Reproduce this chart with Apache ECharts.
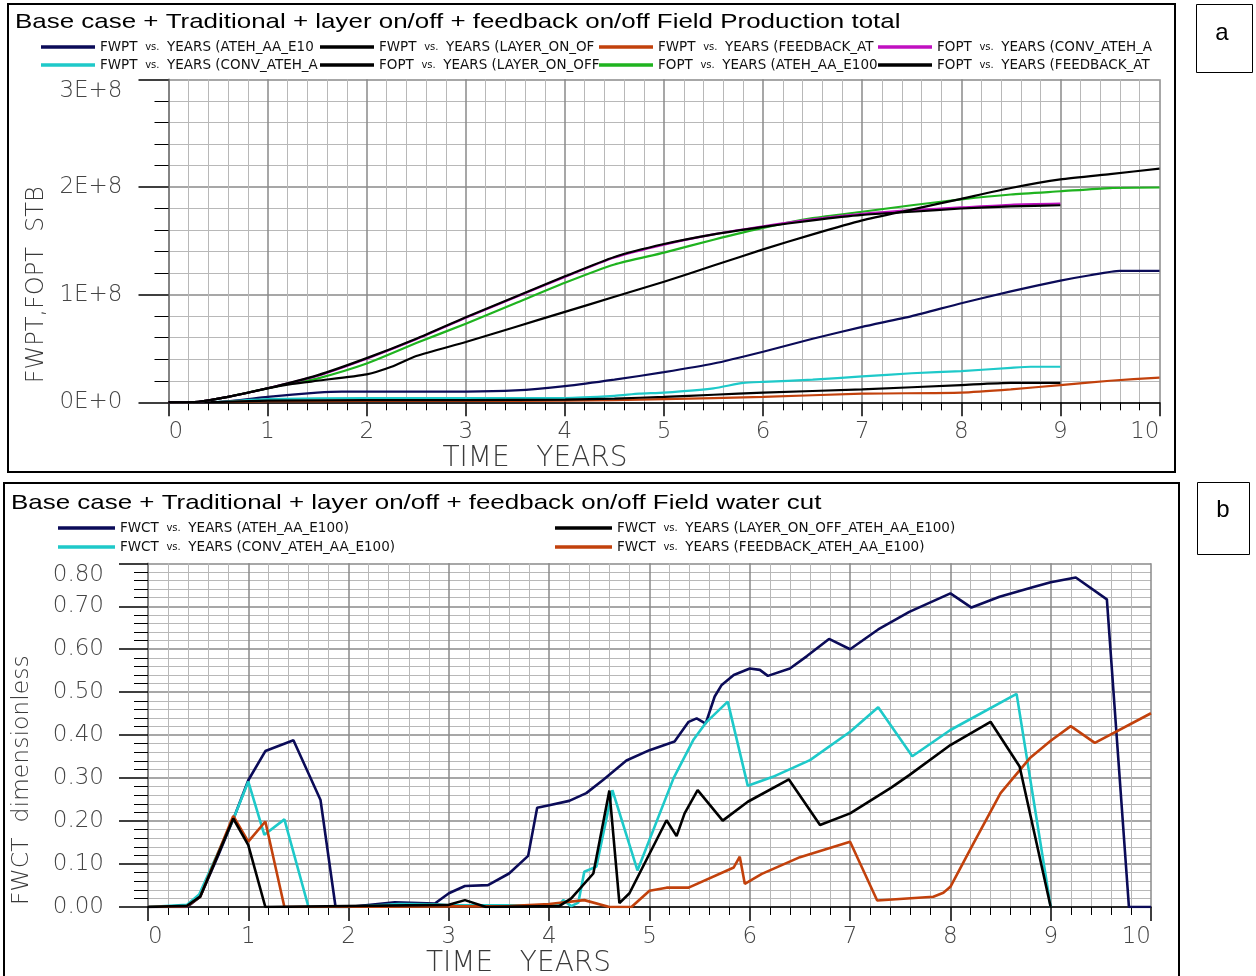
<!DOCTYPE html>
<html>
<head>
<meta charset="utf-8">
<script src="https://cdn.jsdelivr.net/npm/echarts@6/dist/echarts.min.js"></script>
<style>
html,body{margin:0;padding:0;background:#fff;}
#c{width:1256px;height:976px;}
</style>
</head>
<body>
<div id="c"></div>
<script>
// ---------- DATA (panel a: cumulative production, STB; x in years) ----------
const fwptAteh = [[0,0],[0.5,0.003e8],[1,0.05e8],[1.5,0.09e8],[1.75,0.10e8],[2,0.10e8],[3,0.10e8],[3.5,0.11e8],[4,0.15e8],[4.5,0.21e8],[5,0.28e8],[5.5,0.36e8],[6,0.47e8],[6.5,0.59e8],[7,0.70e8],[7.5,0.80e8],[8,0.92e8],[8.5,1.03e8],[9,1.13e8],[9.3,1.18e8],[9.6,1.22e8],[10,1.22e8]];
const fwptLayer = [[0,0],[0.5,0.003e8],[1,0.015e8],[2,0.02e8],[3,0.02e8],[4,0.025e8],[4.5,0.035e8],[5,0.05e8],[5.5,0.07e8],[6,0.09e8],[7,0.12e8],[8,0.16e8],[8.5,0.18e8],[9,0.18e8]];
const fwptFeedback = [[0,0],[0.5,0.003e8],[1,0.01e8],[2,0.012e8],[3,0.013e8],[4,0.015e8],[4.5,0.02e8],[5,0.03e8],[6,0.05e8],[7,0.08e8],[8,0.09e8],[8.5,0.12e8],[9,0.16e8],[9.5,0.20e8],[10,0.23e8]];
const foptConv = [[0,0],[0.3,0.005e8],[0.6,0.05e8],[1,0.13e8],[1.5,0.245e8],[2,0.405e8],[2.5,0.585e8],[3,0.785e8],[3.5,0.975e8],[4,1.165e8],[4.5,1.345e8],[5,1.465e8],[5.5,1.56e8],[6,1.635e8],[6.5,1.70e8],[7,1.75e8],[7.5,1.785e8],[8,1.81e8],[8.5,1.835e8],[9,1.845e8]];
const fwptConv = [[0,0],[0.5,0.005e8],[1,0.03e8],[2,0.04e8],[3,0.04e8],[4,0.04e8],[4.5,0.06e8],[4.75,0.08e8],[5,0.09e8],[5.5,0.13e8],[5.8,0.18e8],[6,0.19e8],[6.5,0.21e8],[7,0.24e8],[7.5,0.27e8],[8,0.29e8],[8.5,0.32e8],[8.7,0.33e8],[9,0.33e8]];
const foptLayer = [[0,0],[0.3,0.005e8],[0.6,0.05e8],[1,0.13e8],[1.5,0.25e8],[2,0.41e8],[2.5,0.59e8],[3,0.79e8],[3.5,0.98e8],[4,1.17e8],[4.5,1.35e8],[5,1.47e8],[5.5,1.56e8],[6,1.63e8],[6.5,1.69e8],[7,1.74e8],[7.5,1.77e8],[8,1.80e8],[8.5,1.82e8],[9,1.83e8]];
const foptAteh = [[0,0],[0.3,0.005e8],[0.6,0.05e8],[1,0.13e8],[1.25,0.18e8],[1.5,0.22e8],[2,0.36e8],[2.5,0.55e8],[3,0.73e8],[3.5,0.92e8],[4,1.11e8],[4.5,1.28e8],[5,1.39e8],[5.5,1.51e8],[6,1.62e8],[6.5,1.71e8],[7,1.77e8],[7.5,1.83e8],[8,1.885e8],[8.5,1.93e8],[9,1.96e8],[9.5,1.99e8],[10,1.995e8]];
const foptFeedback = [[0,0],[0.3,0.005e8],[0.6,0.05e8],[1,0.13e8],[1.25,0.17e8],[1.5,0.20e8],[2,0.26e8],[2.25,0.33e8],[2.5,0.43e8],[3,0.56e8],[3.5,0.70e8],[4,0.84e8],[4.5,0.98e8],[5,1.12e8],[5.5,1.27e8],[6,1.42e8],[6.5,1.56e8],[7,1.69e8],[7.5,1.79e8],[8,1.89e8],[8.5,1.99e8],[9,2.07e8],[9.5,2.12e8],[10,2.17e8]];

// ---------- DATA (panel b: field water cut) ----------
const fwctAteh = [[0,0],[0.39,0],[0.52,0.024],[0.7,0.12],[0.86,0.21],[1.0,0.295],[1.17,0.363],[1.45,0.388],[1.72,0.249],[1.87,0],[2.0,0],[2.46,0.011],[2.86,0.008],[3.0,0.032],[3.16,0.049],[3.39,0.051],[3.6,0.078],[3.79,0.119],[3.88,0.231],[4.0,0.237],[4.2,0.247],[4.37,0.265],[4.54,0.296],[4.77,0.341],[5.0,0.365],[5.25,0.385],[5.39,0.431],[5.47,0.439],[5.56,0.427],[5.65,0.49],[5.72,0.517],[5.84,0.54],[6.0,0.555],[6.1,0.552],[6.18,0.538],[6.4,0.555],[6.57,0.584],[6.79,0.624],[7.0,0.60],[7.28,0.646],[7.59,0.687],[8.0,0.73],[8.21,0.697],[8.49,0.722],[8.82,0.744],[9.0,0.756],[9.25,0.767],[9.56,0.716],[9.78,0],[10,0]];
const fwctConv = [[0,0],[0.39,0.005],[0.51,0.029],[0.86,0.21],[1.0,0.292],[1.16,0.168],[1.36,0.204],[1.6,0],[2.0,0],[2.5,0.007],[2.86,0.006],[3.0,0.004],[4.1,0.004],[4.14,0.016],[4.22,0.002],[4.29,0.01],[4.35,0.082],[4.47,0.094],[4.63,0.272],[4.88,0.085],[5.24,0.30],[5.44,0.39],[5.57,0.431],[5.78,0.478],[5.98,0.282],[6.23,0.303],[6.6,0.342],[7.0,0.408],[7.28,0.465],[7.62,0.351],[8.0,0.412],[8.66,0.496],[9.0,0]];
const fwctLayer = [[0,0],[0.39,0.003],[0.52,0.024],[0.85,0.206],[1.0,0.144],[1.17,0],[3.0,0.005],[3.16,0.016],[3.37,0],[4.1,0.002],[4.22,0.02],[4.44,0.078],[4.6,0.271],[4.7,0.009],[4.8,0.032],[5.17,0.202],[5.27,0.165],[5.35,0.218],[5.48,0.272],[5.73,0.201],[5.98,0.245],[6.39,0.297],[6.7,0.191],[7.0,0.218],[7.41,0.278],[7.59,0.307],[8.0,0.377],[8.4,0.431],[8.69,0.327],[9.0,0]];
const fwctFeedback = [[0,0],[0.39,0.002],[0.52,0.024],[0.85,0.212],[1.0,0.152],[1.17,0.199],[1.36,0],[3.6,0.002],[4.0,0.007],[4.35,0.016],[4.6,0],[4.82,0],[5.0,0.038],[5.17,0.045],[5.39,0.045],[5.84,0.092],[5.9,0.117],[5.95,0.054],[6.12,0.077],[6.5,0.116],[7.0,0.152],[7.27,0.015],[7.83,0.024],[7.93,0.033],[8.0,0.047],[8.23,0.148],[8.5,0.265],[8.79,0.346],[9.0,0.387],[9.2,0.421],[9.44,0.382],[10.0,0.451]];

// ---------- TEXT ----------
const titleA = 'Base case + Traditional + layer on/off + feedback on/off Field Production total';
const titleB = 'Base case + Traditional + layer on/off + feedback on/off Field water cut';
const xName = 'TIME   YEARS';
const yNameA = 'FWPT,FOPT  STB';
const yNameB = 'FWCT  dimensionless';

const FONT = 'Liberation Sans';
const AXFONT = 'DejaVu Sans';
const C = {navy:'#0b0b58', cyan:'#1ec9c9', black:'#000000', orange:'#c2410c', purple:'#c010c0', green:'#1fb31f'};

// legend entries: [series name, colour, left, row]
const legendA = [
  ['FWPT vs. YEARS (ATEH_AA_E100)', C.navy, 41, 0],
  ['FWPT vs. YEARS (LAYER_ON_OFF_ATEH_AA_E100)', C.black, 320, 0],
  ['FWPT vs. YEARS (FEEDBACK_ATEH_AA_E100)', C.orange, 599, 0],
  ['FOPT vs. YEARS (CONV_ATEH_AA_E100)', C.purple, 878, 0],
  ['FWPT vs. YEARS (CONV_ATEH_AA_E100)', C.cyan, 41, 1],
  ['FOPT vs. YEARS (LAYER_ON_OFF_ATEH_AA_E100)', C.black, 320, 1],
  ['FOPT vs. YEARS (ATEH_AA_E100)', C.green, 599, 1],
  ['FOPT vs. YEARS (FEEDBACK_ATEH_AA_E100)', C.black, 878, 1]
];
const legendB = [
  ['FWCT vs. YEARS (ATEH_AA_E100)', C.navy, 58, 0],
  ['FWCT vs. YEARS (LAYER_ON_OFF_ATEH_AA_E100)', C.black, 555, 0],
  ['FWCT vs. YEARS (CONV_ATEH_AA_E100)', C.cyan, 58, 1],
  ['FWCT vs. YEARS (FEEDBACK_ATEH_AA_E100)', C.orange, 555, 1]
];

function richName(n){
  const p = n.split(' vs. ');
  return '{a|' + p[0] + '}  {v|vs.}  {a|' + p[1] + '}';
}
const legRich = {
  a: {fontSize: 13.5, color: '#111', fontFamily: AXFONT},
  v: {fontSize: 10, color: '#111', fontFamily: AXFONT}
};

const legends = [];
legendA.forEach(([name, col, left, row]) => {
  legends.push({
    left: left, top: 40 + row*18, padding: 0, itemWidth: 54, itemHeight: 3.5, icon: 'rect',
    data: [{name: name, itemStyle: {color: col}}],
    selectedMode: false, formatter: richName,
    textStyle: {width: 222, overflow: 'truncate', ellipsis: '', fontFamily: AXFONT, rich: legRich}
  });
});
legendB.forEach(([name, col, left, row]) => {
  legends.push({
    left: left, top: 521 + row*19, padding: 0, itemWidth: 57, itemHeight: 3.5, icon: 'rect',
    data: [{name: name, itemStyle: {color: col}}],
    selectedMode: false, formatter: richName,
    textStyle: {fontFamily: AXFONT, rich: legRich}
  });
});

const LABEL = {fontSize: 23, color: '#454545', fontFamily: AXFONT, fontWeight: 200};
const NAME = {color: '#3a3a3a', fontFamily: AXFONT, fontWeight: 200};

function xAxisCfg(grid, gap, pad, margin){
  return {
    gridIndex: grid, type: 'value', min: 0, max: 10, interval: 1,
    name: xName, nameLocation: 'middle', nameGap: gap,
    nameTextStyle: Object.assign({fontSize: 28, padding: [0, pad, 0, 0]}, NAME),
    axisLine: {show: true, onZero: false, lineStyle: {color: '#000', width: 1.5}},
    axisTick: {show: true, length: 14, lineStyle: {color: '#000', width: 1.5}},
    minorTick: {show: true, splitNumber: 5, length: 8, lineStyle: {color: '#000', width: 1}},
    axisLabel: Object.assign({margin: margin, alignMinLabel: 'left', alignMaxLabel: 'right'}, LABEL),
    splitLine: {show: true, lineStyle: {color: '#8a8a8a', width: 1.5}},
    minorSplitLine: {show: true, lineStyle: {color: '#b8b8b8', width: 1}}
  };
}

const option = {
  animation: false,
  backgroundColor: '#fff',
  legend: legends,
  grid: [
    {left: 168.5, top: 79.3, width: 991, height: 323, containLabel: false, outerBoundsMode: 'none'},
    {left: 148, top: 563.3, width: 1003, height: 343.7, containLabel: false, outerBoundsMode: 'none'}
  ],
  xAxis: [xAxisCfg(0, 42, 258, 18), xAxisCfg(1, 43, 262, 19)],
  yAxis: [
    {
      gridIndex: 0, type: 'value', min: 0, max: 3e8, interval: 1e8,
      name: yNameA, nameLocation: 'middle', nameGap: 117, nameRotate: 90,
      nameTextStyle: Object.assign({fontSize: 24, padding: [0, 88, 0, 0]}, NAME),
      axisLine: {show: true, lineStyle: {color: '#777', width: 1.5}},
      axisTick: {show: true, length: 30, lineStyle: {color: '#000', width: 1.5}},
      minorTick: {show: true, splitNumber: 5, length: 14, lineStyle: {color: '#000', width: 1}},
      axisLabel: Object.assign({margin: 46, verticalAlignMaxLabel: 'top',
        formatter: v => v === 0 ? '0E+0' : Math.round(v / 1e8) + 'E+8'}, LABEL),
      splitLine: {show: true, lineStyle: {color: '#8a8a8a', width: 1.5}},
      minorSplitLine: {show: true, lineStyle: {color: '#b8b8b8', width: 1}}
    },
    {
      gridIndex: 1, type: 'value', min: 0, max: 0.8, interval: 0.1,
      name: yNameB, nameLocation: 'middle', nameGap: 114, nameRotate: 90,
      nameTextStyle: Object.assign({fontSize: 23.5, padding: [0, 90, 0, 0]}, NAME),
      axisLine: {show: true, lineStyle: {color: '#777', width: 1.5}},
      axisTick: {show: true, length: 29, lineStyle: {color: '#000', width: 1.5}},
      minorTick: {show: true, splitNumber: 5, length: 14, lineStyle: {color: '#000', width: 1}},
      axisLabel: Object.assign({margin: 44, verticalAlignMaxLabel: 'top',
        formatter: v => v.toFixed(2)}, LABEL),
      splitLine: {show: true, lineStyle: {color: '#8a8a8a', width: 1.5}},
      minorSplitLine: {show: true, lineStyle: {color: '#b8b8b8', width: 1}}
    }
  ],
  series: [
    {name: legendA[0][0], data: fwptAteh, color: C.navy, xAxisIndex: 0, yAxisIndex: 0},
    {name: legendA[4][0], data: fwptConv, color: C.cyan, xAxisIndex: 0, yAxisIndex: 0},
    {name: legendA[2][0], data: fwptFeedback, color: C.orange, xAxisIndex: 0, yAxisIndex: 0},
    {name: legendA[1][0], data: fwptLayer, color: C.black, xAxisIndex: 0, yAxisIndex: 0},
    {name: legendA[6][0], data: foptAteh, color: C.green, xAxisIndex: 0, yAxisIndex: 0},
    {name: legendA[3][0], data: foptConv, color: C.purple, xAxisIndex: 0, yAxisIndex: 0},
    {name: legendA[5][0], data: foptLayer, color: C.black, xAxisIndex: 0, yAxisIndex: 0},
    {name: legendA[7][0], data: foptFeedback, color: C.black, xAxisIndex: 0, yAxisIndex: 0},
    {name: legendB[0][0], data: fwctAteh, color: C.navy, xAxisIndex: 1, yAxisIndex: 1, smooth: false},
    {name: legendB[2][0], data: fwctConv, color: C.cyan, xAxisIndex: 1, yAxisIndex: 1, smooth: false},
    {name: legendB[3][0], data: fwctFeedback, color: C.orange, xAxisIndex: 1, yAxisIndex: 1, smooth: false},
    {name: legendB[1][0], data: fwctLayer, color: C.black, xAxisIndex: 1, yAxisIndex: 1, smooth: false}
  ].map(s => Object.assign({
    type: 'line', showSymbol: false, symbol: 'none', smooth: 0.2,
    lineStyle: {width: s.xAxisIndex === 1 ? 2.6 : 2.2, color: s.color},
    itemStyle: {color: s.color}, clip: true
  }, s)),
  graphic: [
    {type: 'rect', shape: {x: 8, y: 4, width: 1167, height: 468}, style: {fill: 'none', stroke: '#000', lineWidth: 2}, silent: true},
    {type: 'rect', shape: {x: 4, y: 483, width: 1175, height: 500}, style: {fill: 'none', stroke: '#000', lineWidth: 2}, silent: true},
    {type: 'rect', shape: {x: 1196.5, y: 4.5, width: 56, height: 68}, style: {fill: 'none', stroke: '#000', lineWidth: 1}, silent: true},
    {type: 'rect', shape: {x: 1197.5, y: 482.5, width: 52, height: 72}, style: {fill: 'none', stroke: '#000', lineWidth: 1}, silent: true},
    {type: 'text', x: 15, y: 22, scaleX: 1.235, silent: true,
      style: {text: titleA, fontSize: 21, fill: '#000', fontFamily: FONT, verticalAlign: 'middle', align: 'left'}},
    {type: 'text', x: 11, y: 503, scaleX: 1.235, silent: true,
      style: {text: titleB, fontSize: 21, fill: '#000', fontFamily: FONT, verticalAlign: 'middle', align: 'left'}},
    {type: 'text', x: 1222, y: 33, silent: true,
      style: {text: 'a', fontSize: 24, fill: '#000', fontFamily: FONT, align: 'center', verticalAlign: 'middle'}},
    {type: 'text', x: 1223, y: 510, silent: true,
      style: {text: 'b', fontSize: 24, fill: '#000', fontFamily: FONT, align: 'center', verticalAlign: 'middle'}}
  ]
};

const chart = echarts.init(document.getElementById('c'), null, {renderer: 'canvas'});
chart.setOption(option);
</script>
</body>
</html>
